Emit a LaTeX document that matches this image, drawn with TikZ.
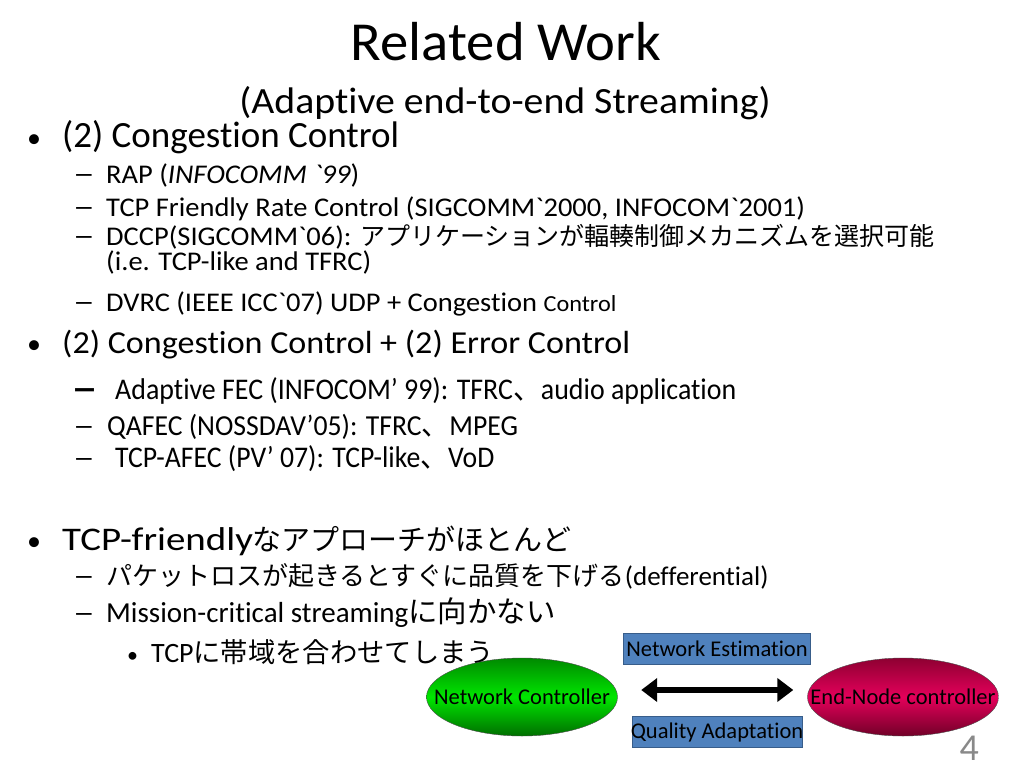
\documentclass[tikz,border=0pt]{standalone}
\usepackage{fontspec}
\newfontfamily\slidefont{Carlito}[Ligatures=NoCommon]
\newfontfamily\jp{Noto Sans CJK JP}
\usetikzlibrary{arrows.meta,shapes.geometric}
\newcommand\px[1]{\fontsize{#1}{#1}\selectfont}
\newcommand\wide[2]{\scalebox{#1}[1]{#2}}
\definecolor{boxblue}{HTML}{4F81BD}
\definecolor{boxline}{HTML}{385D8A}
\definecolor{pagegray}{HTML}{898989}
\definecolor{ncgreen}{HTML}{00E600}
\definecolor{ncdark}{HTML}{008A00}
\definecolor{enred}{HTML}{E4005A}
\definecolor{endark}{HTML}{8E0032}

\begin{document}
\begin{tikzpicture}[x=1pt,y=-1pt,
    every node/.style={font=\slidefont,inner sep=0pt},
    dot1/.style={anchor=base west,font=\slidefont\px{28}},
    lvl1/.style={anchor=base west,font=\slidefont\px{37}},
    dash2/.style={anchor=base west,font=\slidefont\px{29}},
    lvl2/.style={anchor=base west,font=\slidefont\px{27}},
    lvl3/.style={anchor=base west,font=\slidefont\px{28}},
    ctrl/.style={ellipse,draw=black!70,thin,minimum width=191pt,minimum height=78pt,inner xsep=-25pt,font=\slidefont\px{22.5}},
    tag/.style={rectangle,draw=boxline,thin,fill=boxblue,minimum height=31pt,inner xsep=3pt,font=\slidefont\px{22.5}},
    biarrow/.style={{Triangle[width=23pt,length=16pt]}-{Triangle[width=23pt,length=16pt]},line width=6pt}]
  \useasboundingbox[fill=white] (0,0) rectangle (1024,768);

  % title
  \node[anchor=base] (title)    at (506,60)  {\px{55}\wide{1.03}{Related Work}};
  \node[anchor=base] (subtitle) at (505,113) {\px{37}\wide{1.075}{(Adaptive end-to-end Streaming)}};

  % congestion control
  \node[dot1] (d1) at (27,147) {•};
  \node[lvl1] (cc) at (62,147) {(2) Congestion Control};
  \node[dash2] at (73,183) {\wide{1.5}{–}};
  \node[lvl2] (rap) at (106,183) {\wide{1.055}{RAP (\itshape INFOCOMM `99\upshape)}};
  \node[dash2] at (73,216) {\wide{1.5}{–}};
  \node[lvl2] (tfrc) at (106,216) {\wide{1.055}{TCP Friendly Rate Control (SIGCOMM`2000, INFOCOM`2001)}};
  \node[dash2] at (73,245) {\wide{1.5}{–}};
  \node[lvl2] (dccp) at (106,245) {\wide{1.055}{DCCP(SIGCOMM`06): }{\jp\px{25}アプリケーションが輻輳制御メカニズムを選択可能}};
  \node[lvl2] (ie) at (106,270) {\wide{1.055}{(i.e. TCP-like and TFRC)}};
  \node[dash2] at (73,311) {\wide{1.5}{–}};
  \node[lvl2] (dvrc) at (106,311) {\wide{1.055}{DVRC (IEEE ICC`07) UDP + Congestion {\px{23}Control}}};

  % congestion + error control
  \node[dot1] (d2) at (27,353) {•};
  \node[lvl1] (cec) at (62,353) {\px{32}\wide{1.065}{(2) Congestion Control + (2) Error Control}};
  \node[dash2] at (71,400) {\jp\px{27}\bfseries －};
  \node[lvl2] (afec) at (115,399) {\px{30}\wide{0.93}{Adaptive FEC (INFOCOM’ 99): TFRC{\jp 、}audio application}};
  \node[dash2] at (73,435) {\wide{1.5}{–}};
  \node[lvl2] (qafec) at (107,435) {\px{29}\wide{0.955}{QAFEC (NOSSDAV’05): TFRC{\jp 、}MPEG}};
  \node[dash2] at (73,467) {\wide{1.5}{–}};
  \node[lvl2] (tafec) at (115,467) {\px{30}\wide{0.924}{TCP-AFEC (PV’ 07): TCP-like{\jp 、}VoD}};

  % tcp-friendly
  \node[dot1] (d3) at (27,550) {•};
  \node[lvl1] (tf) at (62,550) {\px{33}\wide{1.18}{TCP-friendly}{\jp\px{29}なアプローチがほとんど}};
  \node[dash2] at (73,585) {\wide{1.5}{–}};
  \node[lvl2] (loss) at (106,585) {{\jp\px{26}パケットロスが起きるとすぐに品質を下げる}(defferential)};
  \node[dash2] at (73,622) {\wide{1.5}{–}};
  \node[lvl2] (mc) at (106,622) {\px{29}Mission-critical streaming{\jp\px{29.4}に向かない}};
  \node[lvl3] at (127,662) {\px{22}•};
  \node[lvl3] (bw) at (151,662) {TCP{\jp\px{27.3}に帯域を合わせてしまう}};

  % controllers
  \node[ctrl,top color=ncdark,bottom color=ncdark!80!black,middle color=ncgreen] (nc) at (522,697) {Network Controller};
  \node[ctrl,top color=endark,bottom color=endark!80!black,middle color=enred] (enc) at (903,697) {End-Node controller};
  \node[tag] (est) at (717,649) {Network Estimation};
  \node[tag,inner xsep=-1.5pt] (qa) at (717,732) {Quality Adaptation};
  \draw[biarrow,shorten <=23.5pt,shorten >=14pt] ([yshift=7pt]nc.east) -- ([yshift=7pt]enc.west);

  \node[anchor=base east,text=pagegray] (page) at (979,760) {\px{38}4};
\end{tikzpicture}
\end{document}
